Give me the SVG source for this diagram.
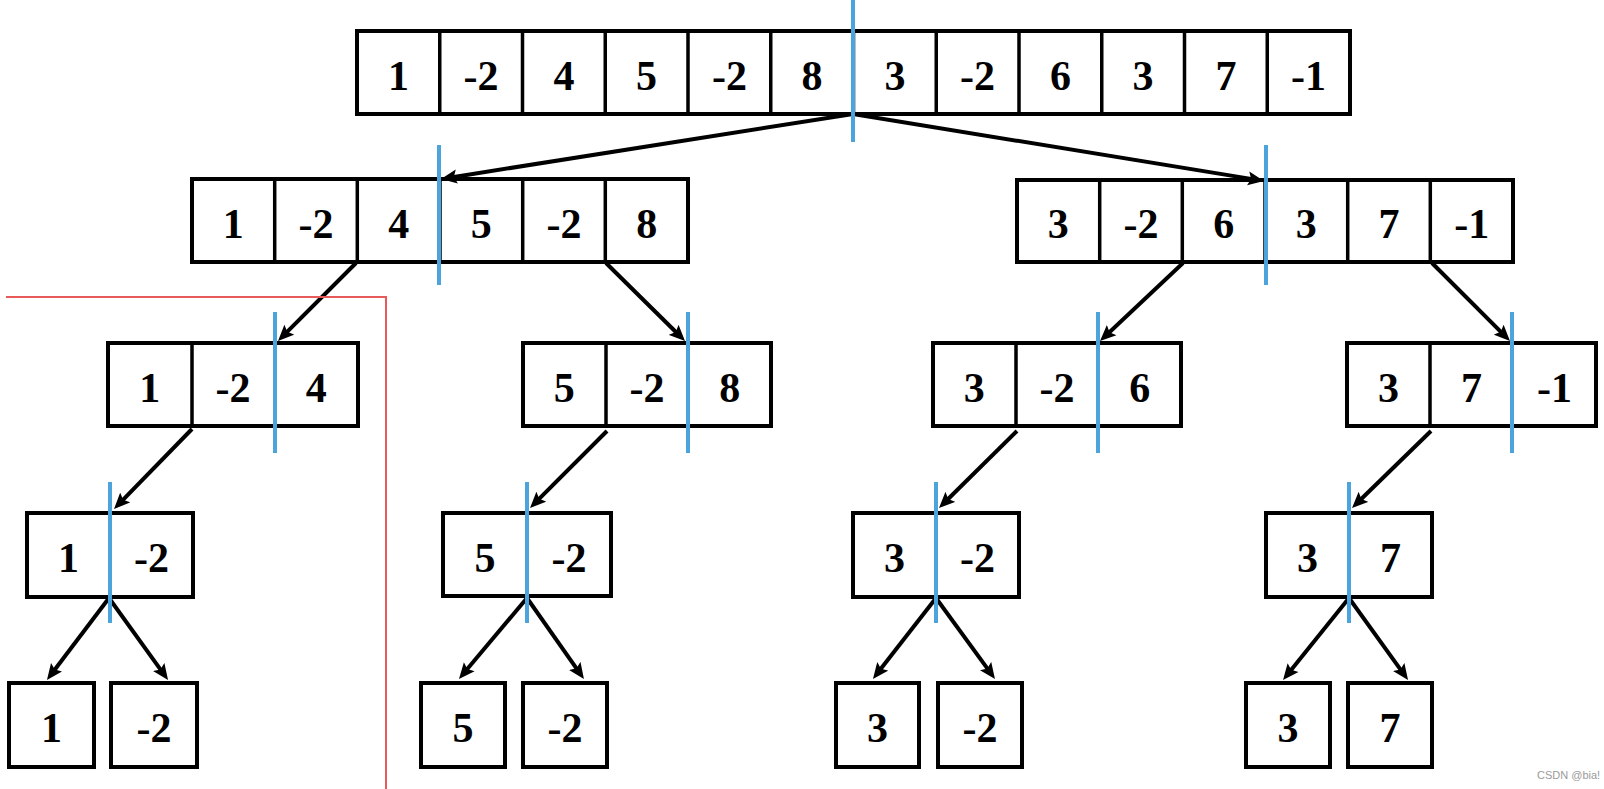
<svg xmlns="http://www.w3.org/2000/svg" width="1604" height="789" viewBox="0 0 1604 789">
<style>
.box{fill:#fff;stroke:#000;stroke-width:4}
.div{stroke:#000;stroke-width:3.5}
.num{font-family:"Liberation Serif","Times New Roman",serif;font-weight:bold;font-size:42px;text-anchor:middle;fill:#000}
.split{stroke:#4da3dc;stroke-width:4}
.conn{stroke:#000;stroke-width:4;fill:none;marker-end:url(#ah)}
</style>
<defs>
<marker id="ah" markerUnits="userSpaceOnUse" markerWidth="17" markerHeight="15" refX="6" refY="7" orient="auto" viewBox="0 0 17 14">
<path d="M0,0 L16,7 L0,14 L3,7 z" fill="#000"/>
</marker>
</defs>
<rect width="1604" height="789" fill="#fff"/>

<!-- Row 1 -->
<g id="n-root">
<rect class="box" x="357" y="31" width="993" height="83"/>
<path class="div" d="M439.75,31V114M522.5,31V114M605.25,31V114M688,31V114M770.75,31V114M853.5,31V114M936.25,31V114M1019,31V114M1101.75,31V114M1184.5,31V114M1267.25,31V114"/>
<text class="num" x="398.4" y="89.5">1</text>
<text class="num" x="481.1" y="89.5">-2</text>
<text class="num" x="563.9" y="89.5">4</text>
<text class="num" x="646.6" y="89.5">5</text>
<text class="num" x="729.4" y="89.5">-2</text>
<text class="num" x="812.1" y="89.5">8</text>
<text class="num" x="894.9" y="89.5">3</text>
<text class="num" x="977.6" y="89.5">-2</text>
<text class="num" x="1060.4" y="89.5">6</text>
<text class="num" x="1143.1" y="89.5">3</text>
<text class="num" x="1225.9" y="89.5">7</text>
<text class="num" x="1308.6" y="89.5">-1</text>
</g>

<!-- Row 2 -->
<g id="n-l">
<rect class="box" x="192" y="179" width="496" height="83"/>
<path class="div" d="M274.7,179V262M357.3,179V262M440,179V262M522.7,179V262M605.3,179V262"/>
<text class="num" x="233.3" y="237.5">1</text>
<text class="num" x="316" y="237.5">-2</text>
<text class="num" x="398.7" y="237.5">4</text>
<text class="num" x="481.3" y="237.5">5</text>
<text class="num" x="564" y="237.5">-2</text>
<text class="num" x="646.7" y="237.5">8</text>
</g>
<g id="n-r">
<rect class="box" x="1017" y="180" width="496" height="82"/>
<path class="div" d="M1099.7,180V262M1182.3,180V262M1265,180V262M1347.7,180V262M1430.3,180V262"/>
<text class="num" x="1058.3" y="237.5">3</text>
<text class="num" x="1141" y="237.5">-2</text>
<text class="num" x="1223.7" y="237.5">6</text>
<text class="num" x="1306.3" y="237.5">3</text>
<text class="num" x="1389" y="237.5">7</text>
<text class="num" x="1471.7" y="237.5">-1</text>
</g>

<!-- Row 3 -->
<g id="n-ll">
<rect class="box" x="108" y="343" width="250" height="83"/>
<path class="div" d="M192,343V426M275,343V426"/>
<text class="num" x="149.7" y="401.5">1</text>
<text class="num" x="233" y="401.5">-2</text>
<text class="num" x="316.3" y="401.5">4</text>
</g>
<g id="n-lr">
<rect class="box" x="523" y="343" width="248" height="83"/>
<path class="div" d="M606,343V426M688,343V426"/>
<text class="num" x="564.3" y="401.5">5</text>
<text class="num" x="647" y="401.5">-2</text>
<text class="num" x="729.7" y="401.5">8</text>
</g>
<g id="n-rl">
<rect class="box" x="933" y="343" width="248" height="83"/>
<path class="div" d="M1016,343V426M1098,343V426"/>
<text class="num" x="974.3" y="401.5">3</text>
<text class="num" x="1057" y="401.5">-2</text>
<text class="num" x="1139.7" y="401.5">6</text>
</g>
<g id="n-rr">
<rect class="box" x="1347" y="343" width="249" height="83"/>
<path class="div" d="M1430,343V426M1512,343V426"/>
<text class="num" x="1388.5" y="401.5">3</text>
<text class="num" x="1471.5" y="401.5">7</text>
<text class="num" x="1554.5" y="401.5">-1</text>
</g>

<!-- Row 4 -->
<g id="n-lll">
<rect class="box" x="27" y="513" width="166" height="84"/>
<text class="num" x="68.5" y="572">1</text>
<text class="num" x="151.5" y="572">-2</text>
</g>
<g id="n-lrl">
<rect class="box" x="443" y="513" width="168" height="83"/>
<text class="num" x="485" y="572">5</text>
<text class="num" x="569" y="572">-2</text>
</g>
<g id="n-rll">
<rect class="box" x="853" y="513" width="166" height="84"/>
<text class="num" x="894.5" y="572">3</text>
<text class="num" x="977.5" y="572">-2</text>
</g>
<g id="n-rrl">
<rect class="box" x="1266" y="513" width="166" height="84"/>
<text class="num" x="1307.5" y="572">3</text>
<text class="num" x="1390.5" y="572">7</text>
</g>

<!-- Row 5 -->
<g id="n-leaf1"><rect class="box" x="9" y="683" width="85" height="84"/><text class="num" x="51.5" y="742">1</text></g>
<g id="n-leaf2"><rect class="box" x="111" y="683" width="86" height="84"/><text class="num" x="154" y="742">-2</text></g>
<g id="n-leaf3"><rect class="box" x="421" y="683" width="84" height="84"/><text class="num" x="463" y="742">5</text></g>
<g id="n-leaf4"><rect class="box" x="523" y="683" width="84" height="84"/><text class="num" x="565" y="742">-2</text></g>
<g id="n-leaf5"><rect class="box" x="836" y="683" width="83" height="84"/><text class="num" x="877.5" y="742">3</text></g>
<g id="n-leaf6"><rect class="box" x="938" y="683" width="84" height="84"/><text class="num" x="980" y="742">-2</text></g>
<g id="n-leaf7"><rect class="box" x="1246" y="683" width="84" height="84"/><text class="num" x="1288" y="742">3</text></g>
<g id="n-leaf8"><rect class="box" x="1348" y="683" width="84" height="84"/><text class="num" x="1390" y="742">7</text></g>

<!-- Connectors -->
<g id="connectors">
<line class="conn" x1="853" y1="114" x2="450.9" y2="177.4"/>
<line class="conn" x1="853" y1="114" x2="1254.1" y2="179.4"/>
<line class="conn" x1="356" y1="263" x2="285.1" y2="333.9"/>
<line class="conn" x1="606" y1="263" x2="677.9" y2="334"/>
<line class="conn" x1="1183" y1="263" x2="1107.3" y2="334.2"/>
<line class="conn" x1="1432" y1="263" x2="1502.9" y2="333.9"/>
<line class="conn" x1="192" y1="429" x2="121" y2="501.8"/>
<line class="conn" x1="607" y1="431" x2="537.1" y2="500.9"/>
<line class="conn" x1="1017" y1="431" x2="946.1" y2="501"/>
<line class="conn" x1="1431" y1="431" x2="1359.2" y2="501"/>
<line class="conn" x1="109" y1="598" x2="53" y2="672"/>
<line class="conn" x1="109" y1="598" x2="162.2" y2="671.9"/>
<line class="conn" x1="527" y1="598" x2="465.4" y2="671.3"/>
<line class="conn" x1="527" y1="598" x2="578.2" y2="670.8"/>
<line class="conn" x1="936" y1="598" x2="879.1" y2="671.1"/>
<line class="conn" x1="936" y1="598" x2="989.1" y2="670.9"/>
<line class="conn" x1="1349" y1="598" x2="1289.3" y2="672.2"/>
<line class="conn" x1="1349" y1="598" x2="1402.2" y2="671.9"/>
</g>

<!-- Split markers -->
<g id="splits">
<line class="split" x1="853" y1="0" x2="853" y2="142"/>
<line class="split" x1="439" y1="145" x2="439" y2="285"/>
<line class="split" x1="1266" y1="145" x2="1266" y2="285"/>
<line class="split" x1="275" y1="312" x2="275" y2="453"/>
<line class="split" x1="688" y1="312" x2="688" y2="453"/>
<line class="split" x1="1098" y1="312" x2="1098" y2="453"/>
<line class="split" x1="1512" y1="312" x2="1512" y2="453"/>
<line class="split" x1="110" y1="482" x2="110" y2="623"/>
<line class="split" x1="527" y1="482" x2="527" y2="623"/>
<line class="split" x1="936" y1="482" x2="936" y2="623"/>
<line class="split" x1="1349" y1="482" x2="1349" y2="623"/>
</g>

<!-- Red highlight -->
<path id="highlight" d="M6,297H386V789" fill="none" stroke="#e85a5a" stroke-width="2"/>

<text x="1537" y="779" font-family="Liberation Sans, Arial, sans-serif" font-size="11" fill="#9a9a9a">CSDN @bia!</text>
</svg>
